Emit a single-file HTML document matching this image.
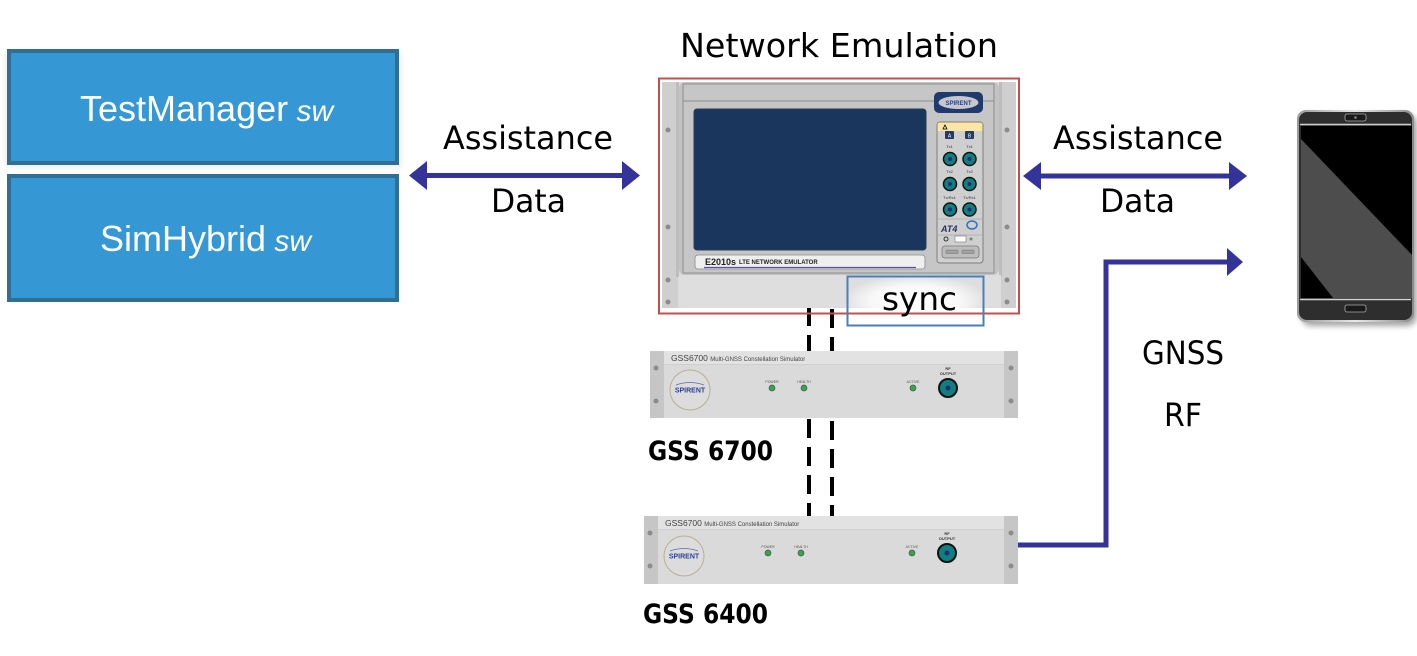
<!DOCTYPE html>
<html>
<head>
<meta charset="utf-8">
<style>
  html,body{margin:0;padding:0;background:#fff;}
  body{width:1417px;height:656px;overflow:hidden;}
  svg{display:block;}
</style>
</head>
<body>
<svg width="1417" height="656" viewBox="0 0 1417 656" xmlns="http://www.w3.org/2000/svg">
  <defs>
    <radialGradient id="syncGlow" cx="50%" cy="50%" r="55%">
      <stop offset="0%" stop-color="#ffffff" stop-opacity="1"/>
      <stop offset="60%" stop-color="#ffffff" stop-opacity="0.8"/>
      <stop offset="100%" stop-color="#ffffff" stop-opacity="0"/>
    </radialGradient>
    <linearGradient id="bezel" x1="0" y1="0" x2="1" y2="0">
      <stop offset="0" stop-color="#9a9a9a"/>
      <stop offset="0.5" stop-color="#e8e8e8"/>
      <stop offset="1" stop-color="#8a8a8a"/>
    </linearGradient>
    <filter id="blur" x="-20%" y="-20%" width="140%" height="140%">
      <feGaussianBlur stdDeviation="3"/>
    </filter>
  </defs>

  <!-- SW boxes -->
  <rect x="4" y="52" width="398" height="116" fill="#000" opacity="0.06" filter="url(#blur)"/>
  <rect x="9" y="51" width="388" height="112" fill="#3597d3" stroke="#306e94" stroke-width="4"/>
  <text x="80" y="121" font-family="Liberation Sans, sans-serif" font-size="36" fill="#fff">TestManager<tspan font-style="italic" font-size="30"> sw</tspan></text>

  <rect x="9" y="176" width="388" height="124" fill="#3597d3" stroke="#306e94" stroke-width="4"/>
  <text x="100" y="251" font-family="Liberation Sans, sans-serif" font-size="36" fill="#fff">SimHybrid<tspan font-style="italic" font-size="30"> sw</tspan></text>

  <!-- Left Assistance Data arrow -->
  <text x="528" y="149" text-anchor="middle" font-family="DejaVu Sans, sans-serif" font-size="32" fill="#000" textLength="170" lengthAdjust="spacingAndGlyphs">Assistance</text>
  <text x="528.5" y="212" text-anchor="middle" font-family="DejaVu Sans, sans-serif" font-size="32" fill="#000" textLength="75" lengthAdjust="spacingAndGlyphs">Data</text>
  <line x1="424" y1="175.5" x2="625" y2="175.5" stroke="#333399" stroke-width="5"/>
  <polygon points="409,175.5 427,161 427,190" fill="#333399"/>
  <polygon points="640,175.5 622,161 622,190" fill="#333399"/>

  <!-- Title -->
  <text x="839" y="57" text-anchor="middle" font-family="DejaVu Sans, sans-serif" font-size="33" fill="#000" textLength="318" lengthAdjust="spacingAndGlyphs">Network Emulation</text>

  <!-- Dashed sync lines (behind GSS boxes) -->
  <line x1="809" y1="307" x2="809" y2="517" stroke="#000" stroke-width="4" stroke-dasharray="19 9"/>
  <line x1="832" y1="309" x2="832" y2="517" stroke="#000" stroke-width="4" stroke-dasharray="19 9"/>

  <!-- Network emulator device -->
  <g>
    <rect x="662" y="82" width="354" height="226" fill="#dcdcdc"/>
    <rect x="662" y="82" width="16" height="226" fill="#cfcfcf"/>
    <rect x="1001" y="82" width="15" height="226" fill="#cfcfcf"/>
    <rect x="676" y="82" width="3" height="195" fill="#bdbdbd"/>
    <rect x="999" y="82" width="3" height="195" fill="#bdbdbd"/>
    <circle cx="668" cy="130" r="2.5" fill="#8c8c8c"/>
    <circle cx="668" cy="227" r="2.5" fill="#8c8c8c"/>
    <circle cx="668" cy="280" r="2.5" fill="#8c8c8c"/>
    <circle cx="668" cy="302" r="2.5" fill="#8c8c8c"/>
    <circle cx="1007" cy="130" r="2.5" fill="#8c8c8c"/>
    <circle cx="1007" cy="227" r="2.5" fill="#8c8c8c"/>
    <circle cx="1007" cy="280" r="2.5" fill="#8c8c8c"/>
    <circle cx="1007" cy="302" r="2.5" fill="#8c8c8c"/>
    <rect x="679" y="82" width="320" height="193" rx="6" fill="#c3c3c3"/>
    <rect x="683" y="84" width="311" height="189" fill="#c6c6c6" stroke="#8e8e8e" stroke-width="1"/>
    <line x1="683" y1="101" x2="994" y2="101" stroke="#8e8e8e" stroke-width="1"/>
    <rect x="694" y="109" width="232" height="141" rx="3" fill="#1b365d" stroke="#2a3d55" stroke-width="1"/>
    <rect x="695" y="255" width="230" height="14" rx="3" fill="#efefef" stroke="#8a8a8a" stroke-width="0.8"/>
    <text x="705" y="265" font-family="Liberation Sans, sans-serif" font-size="9" font-weight="bold" fill="#222">E2010s</text>
    <text x="739" y="264" font-family="Liberation Sans, sans-serif" font-size="6" font-weight="bold" fill="#222">LTE NETWORK EMULATOR</text>
    <line x1="704" y1="267.5" x2="916" y2="267.5" stroke="#5b50a0" stroke-width="1.2"/>
    <rect x="934" y="92" width="49" height="21" rx="5" fill="#1f3b6e"/>
    <ellipse cx="958.5" cy="102.5" rx="20" ry="6.5" fill="#c8c8cc"/>
    <text x="958.5" y="105" text-anchor="middle" font-family="Liberation Sans, sans-serif" font-size="6" font-weight="bold" fill="#2b3f8a">SPIRENT</text>
    <rect x="937" y="122" width="46" height="141" rx="3" fill="#cfcfcf" stroke="#7e7e7e" stroke-width="1"/>
    <path d="M937.5,131 L937.5,125 Q937.5,122.5 940,122.5 L980,122.5 Q982.5,122.5 982.5,125 L982.5,131 Z" fill="#fbe7a3"/>
    <polygon points="943,129 945,125 947,129" fill="none" stroke="#000" stroke-width="0.8"/>
    <rect x="945" y="131" width="9" height="8" rx="1" fill="#223a6a"/>
    <rect x="965" y="131" width="9" height="8" rx="1" fill="#223a6a"/>
    <text x="949.5" y="137.5" text-anchor="middle" font-family="Liberation Sans, sans-serif" font-size="5" fill="#fff">A</text>
    <text x="969.5" y="137.5" text-anchor="middle" font-family="Liberation Sans, sans-serif" font-size="5" fill="#fff">B</text>
    <text x="949.5" y="148" text-anchor="middle" font-family="Liberation Sans, sans-serif" font-size="4" fill="#333">Tx1</text>
    <text x="969.5" y="148" text-anchor="middle" font-family="Liberation Sans, sans-serif" font-size="4" fill="#333">Tx1</text>
    <text x="949.5" y="173" text-anchor="middle" font-family="Liberation Sans, sans-serif" font-size="4" fill="#333">Tx2</text>
    <text x="969.5" y="173" text-anchor="middle" font-family="Liberation Sans, sans-serif" font-size="4" fill="#333">Tx2</text>
    <text x="949.5" y="199" text-anchor="middle" font-family="Liberation Sans, sans-serif" font-size="4" fill="#333">Tx/Rx1</text>
    <text x="969.5" y="199" text-anchor="middle" font-family="Liberation Sans, sans-serif" font-size="4" fill="#333">Tx/Rx1</text>
    <g fill="#0f7f7f" stroke="#111" stroke-width="1.5">
      <circle cx="950" cy="159" r="6.5"/>
      <circle cx="969.5" cy="159" r="6.5"/>
      <circle cx="950" cy="184" r="6.5"/>
      <circle cx="969.5" cy="184" r="6.5"/>
      <circle cx="950" cy="209.5" r="6.5"/>
      <circle cx="969.5" cy="209.5" r="6.5"/>
    </g>
    <g fill="#2c2a7a">
      <circle cx="950" cy="159" r="2"/>
      <circle cx="969.5" cy="159" r="2"/>
      <circle cx="950" cy="184" r="2"/>
      <circle cx="969.5" cy="184" r="2"/>
      <circle cx="950" cy="209.5" r="2"/>
      <circle cx="969.5" cy="209.5" r="2"/>
    </g>
    <line x1="938" y1="219" x2="982" y2="219" stroke="#aaa" stroke-width="0.8"/>
    <text x="941" y="232" font-family="Liberation Sans, sans-serif" font-size="9" font-weight="bold" font-style="italic" fill="#22336e">AT4</text>
    <ellipse cx="972" cy="225" rx="5" ry="4" fill="none" stroke="#2a6fc0" stroke-width="1.5"/>
    <line x1="938" y1="235" x2="982" y2="235" stroke="#aaa" stroke-width="0.8"/>
    <circle cx="946" cy="239" r="2" fill="none" stroke="#111" stroke-width="0.8"/>
    <rect x="955" y="236" width="11" height="6" fill="#fff" stroke="#777" stroke-width="0.6"/>
    <circle cx="971" cy="239" r="1.5" fill="#5a9a3a"/>
    <rect x="942" y="246" width="37" height="12" rx="3" fill="#bdbdbd" stroke="#777" stroke-width="0.8"/>
    <rect x="946" y="250" width="12" height="3.5" fill="#a0a0a0" stroke="#777" stroke-width="0.5"/>
    <rect x="962" y="250" width="12" height="3.5" fill="#a0a0a0" stroke="#777" stroke-width="0.5"/>
    <rect x="679" y="275" width="322" height="32" fill="#dedede"/>
  </g>

  <rect x="848" y="277" width="135" height="48" fill="url(#syncGlow)"/>
  <rect x="659" y="78.5" width="360" height="235" fill="none" stroke="#c0504d" stroke-width="2"/>
  <rect x="847.5" y="276.5" width="136" height="49" fill="none" stroke="#4a7ebb" stroke-width="2"/>
  <text x="919.5" y="310" text-anchor="middle" font-family="DejaVu Sans, sans-serif" font-size="32" fill="#000" textLength="75" lengthAdjust="spacingAndGlyphs">sync</text>

  <!-- Right Assistance Data arrow -->
  <text x="1138" y="149" text-anchor="middle" font-family="DejaVu Sans, sans-serif" font-size="32" fill="#000" textLength="170" lengthAdjust="spacingAndGlyphs">Assistance</text>
  <text x="1137.5" y="212" text-anchor="middle" font-family="DejaVu Sans, sans-serif" font-size="32" fill="#000" textLength="75" lengthAdjust="spacingAndGlyphs">Data</text>
  <line x1="1038" y1="176" x2="1232" y2="176" stroke="#333399" stroke-width="5"/>
  <polygon points="1023,176 1041,162 1041,190" fill="#333399"/>
  <polygon points="1247,176 1229,162 1229,190" fill="#333399"/>

  <!-- GNSS RF connector -->
  <polyline points="1018,545 1106,545 1106,262 1230,262" fill="none" stroke="#333399" stroke-width="5" stroke-linejoin="miter"/>
  <polygon points="1243,262 1227,248 1227,276" fill="#333399"/>
  <text x="1183" y="364" text-anchor="middle" font-family="DejaVu Sans, sans-serif" font-size="32" fill="#000" textLength="82" lengthAdjust="spacingAndGlyphs">GNSS</text>
  <text x="1183" y="426" text-anchor="middle" font-family="DejaVu Sans, sans-serif" font-size="32" fill="#000" textLength="38" lengthAdjust="spacingAndGlyphs">RF</text>

  <!-- GSS6700 -->
  <g>
    <rect x="650" y="351" width="368" height="67" fill="#dadada"/>
    <rect x="664" y="351" width="340" height="13" fill="#e2e2e2"/>
    <line x1="664" y1="364.5" x2="1004" y2="364.5" stroke="#cfcfcf" stroke-width="1"/>
    <rect x="650" y="351" width="14" height="67" fill="#c6c6c6"/>
    <rect x="1004" y="351" width="14" height="67" fill="#c6c6c6"/>
    <circle cx="656" cy="368" r="2.5" fill="#8c8c8c"/>
    <circle cx="656" cy="401" r="2.5" fill="#8c8c8c"/>
    <circle cx="1011" cy="368" r="2.5" fill="#8c8c8c"/>
    <circle cx="1011" cy="401" r="2.5" fill="#8c8c8c"/>
    <text x="671" y="361" font-family="Liberation Sans, sans-serif" font-size="8.5" fill="#444">GSS6700 <tspan font-size="6">Multi-GNSS Constellation Simulator</tspan></text>
    <circle cx="690" cy="390" r="20" fill="#dcdcdc" stroke="#b8b090" stroke-width="1"/>
    <text x="690" y="392.5" text-anchor="middle" font-family="Liberation Sans, sans-serif" font-size="7" font-weight="bold" fill="#2e3f91">SPIRENT</text>
    <path d="M676,385 Q690,380 704,385" fill="none" stroke="#5a6fb0" stroke-width="0.8"/>
    <text x="772" y="383" text-anchor="middle" font-family="Liberation Sans, sans-serif" font-size="3.5" fill="#555">POWER</text>
    <text x="804" y="383" text-anchor="middle" font-family="Liberation Sans, sans-serif" font-size="3.5" fill="#555">HEALTH</text>
    <text x="913" y="383" text-anchor="middle" font-family="Liberation Sans, sans-serif" font-size="3.5" fill="#555">ACTIVE</text>
    <circle cx="772" cy="388" r="3" fill="#2ea84a" stroke="#555" stroke-width="0.7"/>
    <circle cx="804" cy="388" r="3" fill="#2ea84a" stroke="#555" stroke-width="0.7"/>
    <circle cx="913" cy="388" r="3" fill="#2ea84a" stroke="#555" stroke-width="0.7"/>
    <text x="948" y="370" text-anchor="middle" font-family="Liberation Sans, sans-serif" font-size="4" font-weight="bold" fill="#333">RF</text>
    <text x="948" y="375" text-anchor="middle" font-family="Liberation Sans, sans-serif" font-size="4" font-weight="bold" fill="#333">OUTPUT</text>
    <circle cx="948" cy="388" r="9" fill="#0f7f7f" stroke="#111" stroke-width="2"/>
    <circle cx="948" cy="388" r="2.5" fill="#2c2a7a"/>
  </g>
  <text x="648" y="460" font-family="DejaVu Sans, sans-serif" font-size="27" font-weight="bold" fill="#000" textLength="125" lengthAdjust="spacingAndGlyphs">GSS 6700</text>

  <!-- GSS6400 -->
  <g>
    <rect x="644" y="516" width="374" height="68" fill="#dadada"/>
    <rect x="658" y="516" width="346" height="13" fill="#e2e2e2"/>
    <line x1="658" y1="529.5" x2="1004" y2="529.5" stroke="#cfcfcf" stroke-width="1"/>
    <rect x="644" y="516" width="14" height="68" fill="#c6c6c6"/>
    <rect x="1004" y="516" width="14" height="68" fill="#c6c6c6"/>
    <circle cx="650" cy="533" r="2.5" fill="#8c8c8c"/>
    <circle cx="650" cy="566" r="2.5" fill="#8c8c8c"/>
    <circle cx="1011" cy="533" r="2.5" fill="#8c8c8c"/>
    <circle cx="1011" cy="566" r="2.5" fill="#8c8c8c"/>
    <text x="665" y="526" font-family="Liberation Sans, sans-serif" font-size="8.5" fill="#444">GSS6700 <tspan font-size="6">Multi-GNSS Constellation Simulator</tspan></text>
    <circle cx="684" cy="556" r="20" fill="#dcdcdc" stroke="#b8b090" stroke-width="1"/>
    <text x="684" y="558.5" text-anchor="middle" font-family="Liberation Sans, sans-serif" font-size="7" font-weight="bold" fill="#2e3f91">SPIRENT</text>
    <path d="M670,551 Q684,546 698,551" fill="none" stroke="#5a6fb0" stroke-width="0.8"/>
    <text x="768" y="548" text-anchor="middle" font-family="Liberation Sans, sans-serif" font-size="3.5" fill="#555">POWER</text>
    <text x="801" y="548" text-anchor="middle" font-family="Liberation Sans, sans-serif" font-size="3.5" fill="#555">HEALTH</text>
    <text x="912" y="548" text-anchor="middle" font-family="Liberation Sans, sans-serif" font-size="3.5" fill="#555">ACTIVE</text>
    <circle cx="768" cy="553" r="3" fill="#2ea84a" stroke="#555" stroke-width="0.7"/>
    <circle cx="801" cy="553" r="3" fill="#2ea84a" stroke="#555" stroke-width="0.7"/>
    <circle cx="912" cy="553" r="3" fill="#2ea84a" stroke="#555" stroke-width="0.7"/>
    <text x="947" y="535" text-anchor="middle" font-family="Liberation Sans, sans-serif" font-size="4" font-weight="bold" fill="#333">RF</text>
    <text x="947" y="540" text-anchor="middle" font-family="Liberation Sans, sans-serif" font-size="4" font-weight="bold" fill="#333">OUTPUT</text>
    <circle cx="947" cy="553" r="9" fill="#0f7f7f" stroke="#111" stroke-width="2"/>
    <circle cx="947" cy="553" r="2.5" fill="#2c2a7a"/>
  </g>
  <text x="643" y="623" font-family="DejaVu Sans, sans-serif" font-size="27" font-weight="bold" fill="#000" textLength="125" lengthAdjust="spacingAndGlyphs">GSS 6400</text>

  <!-- Phone -->
  <g>
    <rect x="1301" y="114" width="116" height="212" rx="10" fill="#000" opacity="0.35" filter="url(#blur)"/>
    <rect x="1297" y="110" width="117" height="212" rx="9" fill="url(#bezel)"/>
    <rect x="1299" y="112" width="113" height="208" rx="8" fill="#2e2e2e"/>
    <line x1="1300" y1="124.5" x2="1411" y2="124.5" stroke="#cfcfcf" stroke-width="1.5"/>
    <line x1="1300" y1="299.5" x2="1411" y2="299.5" stroke="#cfcfcf" stroke-width="1.5"/>
    <rect x="1301" y="126" width="111" height="172" fill="#000"/>
    <polygon points="1301,139 1412,255 1412,298 1333,298 1301,257" fill="#4d4d4d"/>
    <rect x="1345" y="114" width="21" height="7" rx="2" fill="#1a1a1a" stroke="#aaa" stroke-width="0.8"/>
    <circle cx="1355.5" cy="117.5" r="1.3" fill="#888"/>
    <rect x="1345" y="305" width="21" height="7" rx="2" fill="#1a1a1a" stroke="#aaa" stroke-width="0.8"/>
  </g>
</svg>
</body>
</html>
